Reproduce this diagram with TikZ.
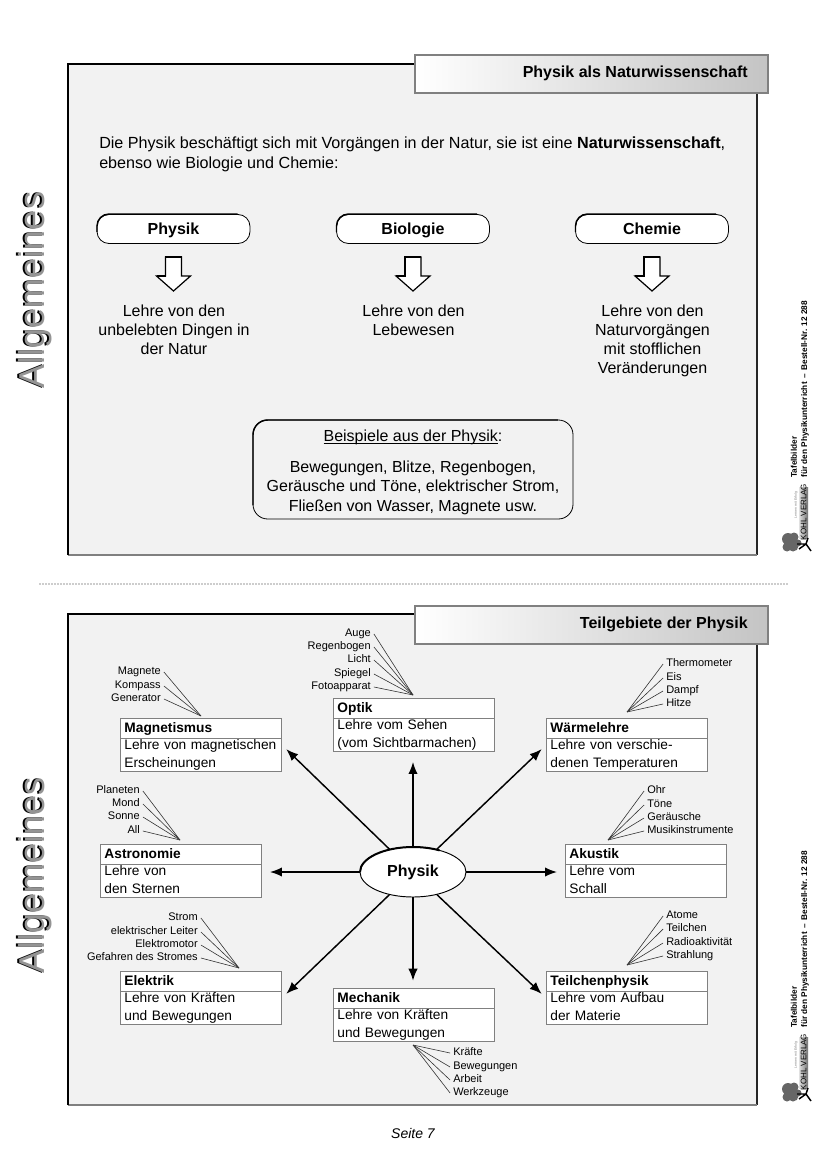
\documentclass[tikz,border=0pt]{standalone}
\usepackage{fontspec}
\setmainfont{Liberation Sans}
\usetikzlibrary{shapes.geometric,shapes.multipart,arrows.meta}

\definecolor{flaeche}{HTML}{F2F2F2}
\definecolor{leiste}{HTML}{C4C4C4}

\tikzset{
    titelleiste/.style={draw=gray, line width=1.2pt, left color=white, right color=leiste,
        minimum width=353*0.75pt, minimum height=38*0.75pt, anchor=north west, inner sep=0pt},
    fach/.style={draw=black, line width=0.6pt, fill=white, rounded corners=9pt, minimum width=153*0.75pt, minimum height=29*0.75pt,
        inner sep=0pt, text height=11pt, text depth=2pt, font=\fontsize{12}{14}\selectfont\bfseries},
    lehre/.style={align=center, anchor=north, inner sep=0pt, font=\fontsize{12}{14.25}\selectfont},
    thema/.style={rectangle split, rectangle split parts=2, draw=gray, line width=0.7pt, fill=white, anchor=north west,
        text width=114.75pt, inner xsep=3pt, inner ysep=0.2pt, rectangle split part align={left},
        font=\fontsize{10.3}{13.5}\selectfont},
    stich/.style={inner sep=0pt, text height=6pt, text depth=2pt, font=\fontsize{8.25}{9}\selectfont},
    fahne/.style={line width=0.45pt, black!80},
    pfeil/.style={-{Latex[length=9pt,width=7pt]}, line width=1.1pt},
    seitlich/.style={rotate=90, anchor=west, inner sep=0pt, font=\fontsize{6.2}{7}\selectfont\bfseries}
}

% underline close to the baseline
\newcommand{\strichtext}[1]{\setbox0\hbox{#1}\rlap{\rule[-1.6pt]{\wd0}{0.5pt}}\box0}

% box with a bold head and two lines
\newcommand{\themabox}[5]{%
    \node[thema] (#1) at (#2) {\rule[-3.55pt]{0pt}{13.85pt}\textbf{#3}\nodepart{two}\rule{0pt}{8pt}#4\\#5\rule[-2.2pt]{0pt}{2.2pt}};
}

% one keyword with its line to the tip of the fan
\newcommand{\stichlinks}[4]{%
    \node[stich, anchor=east] (#1) at (#2) {#4};
    \draw[fahne] ([xshift=2.2pt]#1.east) -- (#3);
}
\newcommand{\stichrechts}[4]{%
    \node[stich, anchor=west] (#1) at (#2) {#4};
    \draw[fahne] ([xshift=-2.2pt]#1.west) -- (#3);
}

\begin{document}
\begin{tikzpicture}[x=0.75pt, y=-0.75pt]
    \useasboundingbox (0,0) rectangle (827,1169);

    % --- two sheets ---
    \foreach \oben/\balken/\seite/\dy/\titel in {64/54/290/0/Physik als Naturwissenschaft, 614/605/875/550/Teilgebiete der Physik} {
        \fill[flaeche] (68,\oben) rectangle (757,\oben+491);
        \draw[line width=0.8pt, black!85] (757,\oben) -- (757,\oben+491);
        \draw[line width=1pt, gray] (68,\oben+491) -- (757,\oben+491);
        \draw[line width=1.6pt] (68,\oben+491) -- (68,\oben) -- (414,\oben);
        \node[titelleiste] at (414,\balken) {};
        \node[anchor=east, inner sep=0pt, font=\fontsize{12}{14}\selectfont\bfseries] at (748,\balken+19) {\titel};
        % side title
        \node[rotate=90, inner sep=0pt, text=black, font=\fontsize{27}{30}\selectfont] at (33,\seite) {Allgemeines};
        \node[rotate=90, inner sep=0pt, text=black!42, font=\fontsize{27}{30}\selectfont] at (35,\seite) {Allgemeines};
        % imprint and logo
        \node[seitlich] at (794,478+\dy) {Tafelbilder};
        \node[seitlich] at (805,478+\dy) {für den Physikunterricht\, –\, Bestell-Nr. 12 288};
        \shade[left color=black!12, right color=black!55] (799,487+\dy) rectangle (808,538+\dy);
        \node[rotate=90, inner sep=0pt, font=\fontsize{6}{7}\selectfont] at (803.5,512+\dy) {KOHL VERLAG};
        \node[rotate=90, inner sep=0pt, text=gray, font=\fontsize{2.6}{3}\selectfont] at (796,505+\dy) {Lernen mit Erfolg};
        \fill[black!60] (788,539+\dy) circle[radius=6] (794,537+\dy) circle[radius=4.5]
            (793,546+\dy) circle[radius=5.5] (787,547+\dy) circle[radius=4.5] (798,543+\dy) circle[radius=3.5];
        \draw[line width=1.1pt] (797,544+\dy) -- (806,544+\dy) -- (811,551+\dy) (806,544+\dy) -- (808,538+\dy) (806,544+\dy) -- (799,549+\dy);
    }

    % --- upper sheet ---
    \node[anchor=north west, align=left, inner sep=0pt, font=\fontsize{12.1}{14.6}\selectfont] (einleitung) at (99,137)
        {Die Physik beschäftigt sich mit Vorgängen in der Natur, sie ist eine \textbf{Naturwissenschaft},\\ebenso wie Biologie und Chemie:};

    \foreach \name/\x/\wort/\zeilen in {physikfach/173.5/Physik/{Lehre von den\\unbelebten Dingen in\\der Natur},
                                        biologie/413/Biologie/{Lehre von den\\Lebewesen},
                                        chemie/652/Chemie/{Lehre von den\\Naturvorgängen\\mit stofflichen\\Veränderungen}} {
        \node[fach] (\name) at (\x,229) {\wort};
        \draw[line width=1.1pt, rounded corners=9pt] (\x-76.5,232) -- (\x-76.5,214) -- (\x+64,214);
        \draw[fill=white, line width=0.9pt] (\x-8,257) -- (\x+8,257) -- (\x+8,276) -- (\x+17,276) -- (\x,291) -- (\x-17,276) -- (\x-8,276) -- cycle;
        \draw[line width=1.4pt] (\x-17,276) -- (\x-8,276) -- (\x-8,257) -- (\x+8,257);
        \node[lehre] (\name text) at (\x+0.5,305) {\zeilen};
    }

    \node[draw=black, line width=0.6pt, rounded corners=11pt, minimum width=320*0.75pt, minimum height=99*0.75pt,
          inner sep=0pt] (beispiele) at (413,469.5) {};
    \draw[line width=1.1pt, rounded corners=11pt] (253,505) -- (253,420) -- (558,420);
    \node[inner sep=0pt, align=center, font=\fontsize{12}{14.6}\selectfont] (beispieltext) at (413,472)
        {\strichtext{Beispiele aus der Physik}:\\[8.5pt]Bewegungen, Blitze, Regenbogen,\\Geräusche und Töne, elektrischer Strom,\\Fließen von Wasser, Magnete usw.};

    % --- dotted rule ---
    \draw[line width=1.3pt, gray!80, line cap=round, dash pattern=on 0pt off 2.25pt] (40,584) -- (787,584);

    % --- lower sheet: map ---
    \node[ellipse, draw=black, line width=0.7pt, fill=white, minimum width=106*0.75pt, minimum height=50*0.75pt,
          inner sep=0pt, font=\fontsize{12}{14}\selectfont\bfseries] (physik) at (413,872) {Physik};
    \draw[line width=1.5pt] (360,872) arc[start angle=180, end angle=300, x radius=53, y radius=25];

    \themabox{optik}{333,698}{Optik}{Lehre vom Sehen}{(vom Sichtbarmachen)}
    \themabox{magnetismus}{120,718}{Magnetismus}{Lehre von magnetischen}{Erscheinungen}
    \themabox{waerme}{546,718}{Wärmelehre}{Lehre von verschie-}{denen Temperaturen}
    \themabox{astronomie}{100,844}{Astronomie}{Lehre von}{den Sternen}
    \themabox{akustik}{565,844}{Akustik}{Lehre vom}{Schall}
    \themabox{elektrik}{120,971}{Elektrik}{Lehre von Kräften}{und Bewegungen}
    \themabox{mechanik}{333,988}{Mechanik}{Lehre von Kräften}{und Bewegungen}
    \themabox{teilchen}{546,971}{Teilchenphysik}{Lehre vom Aufbau}{der Materie}

    \draw[pfeil, shorten >=7.5pt] (physik) -- (physik |- optik.south);
    \draw[pfeil, shorten >=4.5pt] (physik) -- (magnetismus.east);
    \draw[pfeil, shorten >=4.5pt] (physik) -- (waerme.west);
    \draw[pfeil, shorten >=6pt] (physik) -- (physik -| astronomie.east);
    \draw[pfeil, shorten >=6pt] (physik) -- (physik -| akustik.west);
    \draw[pfeil, shorten >=4.5pt] (physik) -- (elektrik.east);
    \draw[pfeil, shorten >=5.5pt] (physik) -- (physik |- mechanik.north);
    \draw[pfeil, shorten >=4.5pt] (physik) -- (teilchen.west);

    % --- keyword fans ---
    \coordinate (optikspitze) at (413,695);
    \coordinate (magnetspitze) at (201,716);
    \coordinate (astrospitze) at (180,840);
    \coordinate (elektrospitze) at (239,968);
    \coordinate (waermespitze) at (627,712);
    \coordinate (akustikspitze) at (608,840);
    \coordinate (teilchenspitze) at (627,965);
    \coordinate (mechanikspitze) at (413,1045);

    \foreach \name/\y/\wort in {a/634/Auge, b/647/Regenbogen, c/660/Licht, d/674/Spiegel, e/687/Fotoapparat}
        {\stichlinks{o\name}{371,\y}{optikspitze}{\wort}}
    \foreach \name/\y/\wort in {a/672/Magnete, b/686/Kompass, c/699/Generator}
        {\stichlinks{m\name}{161,\y}{magnetspitze}{\wort}}
    \foreach \name/\y/\wort in {a/791/Planeten, b/804/Mond, c/817/Sonne, d/831/All}
        {\stichlinks{s\name}{140,\y}{astrospitze}{\wort}}
    \foreach \name/\y/\wort in {a/918/Strom, b/932/elektrischer Leiter, c/945/Elektromotor, d/958/Gefahren des Stromes}
        {\stichlinks{l\name}{198,\y}{elektrospitze}{\wort}}
    \foreach \name/\y/\wort in {a/664/Thermometer, b/678/Eis, c/691/Dampf, d/704/Hitze}
        {\stichrechts{w\name}{666,\y}{waermespitze}{\wort}}
    \foreach \name/\y/\wort in {a/791/Ohr, b/805/Töne, c/818/Geräusche, d/831/Musikinstrumente}
        {\stichrechts{k\name}{647,\y}{akustikspitze}{\wort}}
    \foreach \name/\y/\wort in {a/916/Atome, b/929/Teilchen, c/943/Radioaktivität, d/956/Strahlung}
        {\stichrechts{t\name}{666,\y}{teilchenspitze}{\wort}}
    \foreach \name/\y/\wort in {a/1053/Kräfte, b/1067/Bewegungen, c/1080/Arbeit, d/1093/Werkzeuge}
        {\stichrechts{h\name}{453,\y}{mechanikspitze}{\wort}}

    % --- footer ---
    \node[inner sep=0pt, font=\fontsize{10.5}{12}\selectfont\itshape] (seite) at (413,1133) {Seite 7};
\end{tikzpicture}
\end{document}
